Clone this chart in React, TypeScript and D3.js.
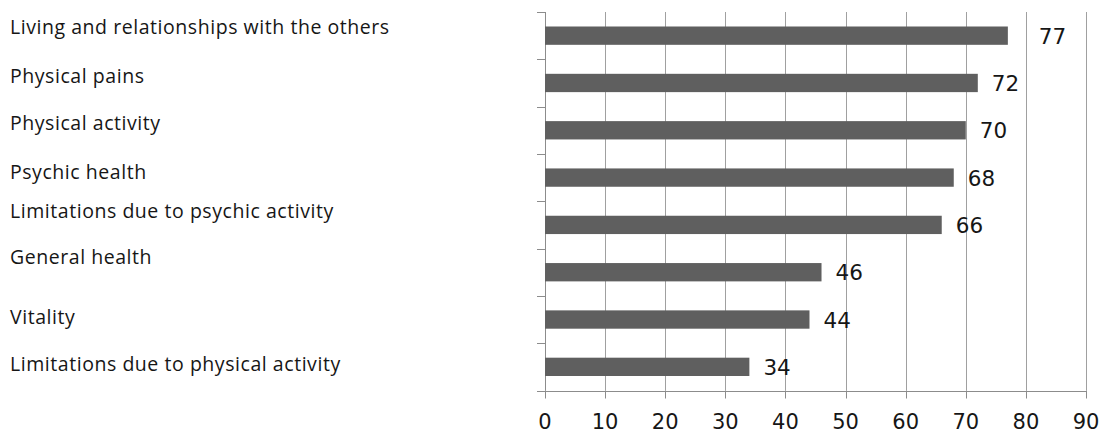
import React from "react";
import * as d3 from "d3";

// Mean scores per quality-of-life dimension
const categories: string[] = [
  "Living and relationships with the others",
  "Physical pains",
  "Physical activity",
  "Psychic health",
  "Limitations due to psychic activity",
  "General health",
  "Vitality",
  "Limitations due to physical activity",
];
const scores: number[] = [77, 72, 70, 68, 66, 46, 44, 34];
const xTicks: number[] = [0, 10, 20, 30, 40, 50, 60, 70, 80, 90];

// Layout
const W = 1103;
const H = 434;
const plotLeft = 545;
const plotRight = 1086;
const plotTop = 12;
const plotBottom = 390.5;
// vertical nudges of the category captions relative to their band centre
const captionNudge = [-2, 0, 0, 1, -7, -8, 4, 4];
// horizontal nudges of the value labels
const valueNudge = [17, 0, 0, 0, 0, 0, 0, 0];

const GRID = "#a0a0a0";
const AXIS = "#8c8c8c";
const BAR = "#5f5f5f";
const TEXT = "#161616";

export default function App() {
  const x = d3.scaleLinear().domain([0, 90]).range([plotLeft, plotRight]);
  const y = d3
    .scaleBand<string>()
    .domain(categories)
    .range([plotTop, plotBottom])
    .paddingInner(0.613)
    .paddingOuter(0.3065);
  const step = y.step();
  const bw = y.bandwidth();
  const bandEdges = d3.range(categories.length + 1).map((i) => plotTop + i * step);

  return (
    <svg
      width={W}
      height={H}
      style={{ position: "absolute", left: 0, top: 0, background: "#fff" }}
    >
      {/* vertical gridlines */}
      {xTicks.map((t) => (
        <line
          key={"g" + t}
          x1={Math.round(x(t)) + 0.5}
          x2={Math.round(x(t)) + 0.5}
          y1={plotTop}
          y2={plotBottom}
          stroke={GRID}
          strokeWidth={1}
        />
      ))}
      {/* category axis */}
      <line
        x1={plotLeft + 0.5}
        x2={plotLeft + 0.5}
        y1={plotTop}
        y2={plotBottom}
        stroke={AXIS}
        strokeWidth={1}
      />
      {bandEdges.map((e, i) => (
        <line
          key={"yt" + i}
          x1={plotLeft - 8}
          x2={plotLeft + 1}
          y1={Math.round(e) + 0.5}
          y2={Math.round(e) + 0.5}
          stroke={AXIS}
          strokeWidth={1}
        />
      ))}
      {/* value axis */}
      <line
        x1={plotLeft - 8}
        x2={plotRight + 1}
        y1={Math.round(plotBottom) + 0.5}
        y2={Math.round(plotBottom) + 0.5}
        stroke={AXIS}
        strokeWidth={1}
      />
      {xTicks.map((t) => (
        <line
          key={"xt" + t}
          x1={Math.round(x(t)) + 0.5}
          x2={Math.round(x(t)) + 0.5}
          y1={plotBottom}
          y2={plotBottom + 8}
          stroke={AXIS}
          strokeWidth={1}
        />
      ))}
      {xTicks.map((t) => (
        <text
          key={"xl" + t}
          x={x(t)}
          y={429}
          textAnchor="middle"
          fontFamily="DejaVu Sans"
          fontSize={21}
          fill={TEXT}
        >
          {t}
        </text>
      ))}
      {/* bars */}
      {categories.map((c, i) => (
        <rect
          key={"b" + i}
          x={x(0)}
          y={y(c)!}
          width={x(scores[i]) - x(0)}
          height={bw}
          fill={BAR}
        />
      ))}
      {/* value labels */}
      {categories.map((c, i) => (
        <text
          key={"v" + i}
          x={x(scores[i]) + 14 + valueNudge[i]}
          y={y(c)! + bw / 2 + 8}
          fontFamily="DejaVu Sans"
          fontSize={21.5}
          fill={TEXT}
        >
          {scores[i]}
        </text>
      ))}
      {/* category captions */}
      {categories.map((c, i) => (
        <text
          key={"c" + i}
          x={10}
          y={y(c)! + bw / 2 + captionNudge[i]}
          fontFamily="Open Sans"
          fontSize={19.5}
          letterSpacing={0.55}
          fill={TEXT}
        >
          {c}
        </text>
      ))}
    </svg>
  );
}
